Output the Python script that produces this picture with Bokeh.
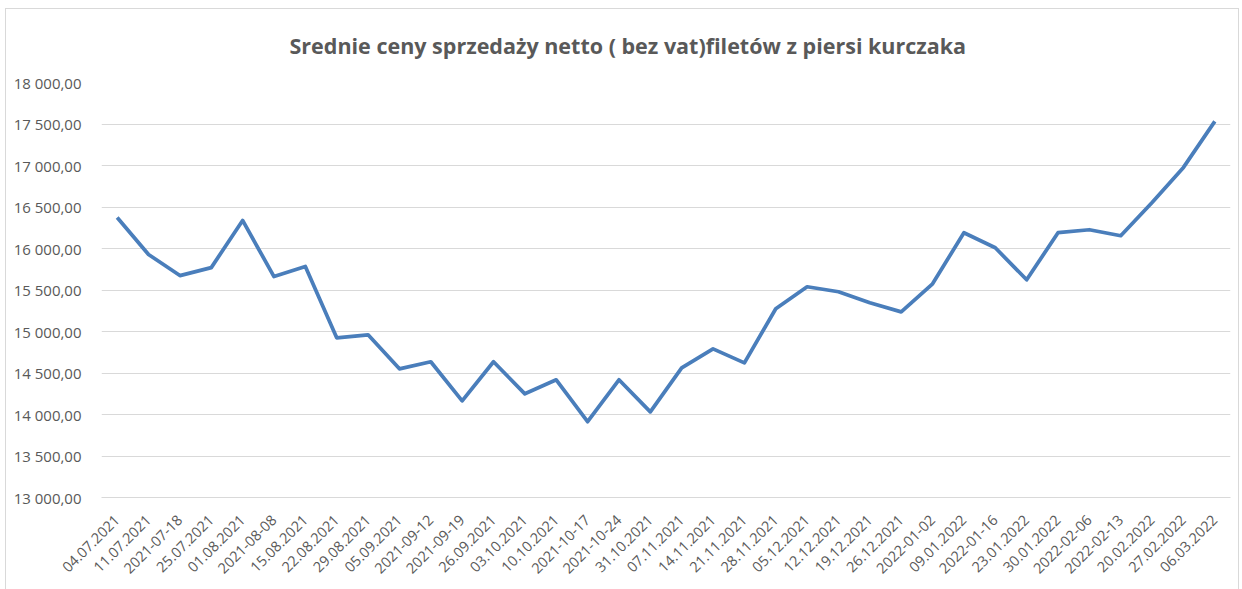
from bokeh.plotting import figure
from bokeh.models import FactorRange, Range1d, FixedTicker
from bokeh.embed import file_html
from bokeh.resources import INLINE

dates = ["04.07.2021", "11.07.2021", "2021-07-18", "25.07.2021", "01.08.2021", "2021-08-08",
         "15.08.2021", "22.08.2021", "29.08.2021", "05.09.2021", "2021-09-12", "2021-09-19",
         "26.09.2021", "03.10.2021", "10.10.2021", "2021-10-17", "2021-10-24", "31.10.2021",
         "07.11.2021", "14.11.2021", "21.11.2021", "28.11.2021", "05.12.2021", "12.12.2021",
         "19.12.2021", "26.12.2021", "2022-01-02", "09.01.2022", "2022-01-16", "23.01.2022",
         "30.01.2022", "2022-02-06", "2022-02-13", "20.02.2022", "27.02.2022", "06.03.2022"]

prices = [16374, 15927, 15674, 15770, 16338, 15662,
          15783, 14924, 14960, 14550, 14635, 14165,
          14635, 14249, 14418, 13913, 14418, 14032,
          14562, 14791, 14622, 15274, 15539, 15479,
          15346, 15237, 15575, 16190, 16009, 15623,
          16190, 16226, 16154, 16555, 16977, 17532]

y_ticks = [13000, 13500, 14000, 14500, 15000, 15500, 16000, 16500, 17000, 17500, 18000]
y_labels = ["13 000,00", "13 500,00", "14 000,00", "14 500,00", "15 000,00", "15 500,00",
            "16 000,00", "16 500,00", "17 000,00", "17 500,00", "18 000,00"]

title_text = "Srednie ceny sprzedaży netto ( bez vat)filetów z piersi kurczaka"

p = figure(frame_width=1129, frame_height=415, x_range=FactorRange(*dates), y_range=Range1d(13000, 18000),
           output_backend="svg", toolbar_location=None, title=title_text,
           min_border_left=95, min_border_right=8, min_border_top=73, min_border_bottom=92)
p.styles = {"border": "1px solid #d9d9d9", "margin-left": "5px", "margin-top": "8px"}

p.title.align = "left"
p.title.offset = 188
p.title.vertical_align = "top"
p.title.text_font = "Open Sans"
p.title.text_font_size = "21.5px"
p.title.text_font_style = "bold"
p.title.text_color = "#595959"
p.title.standoff = 41

p.line(dates, prices, line_color="#4a7ebb", line_width=3.75, line_join="round")

p.outline_line_color = None
p.xgrid.grid_line_color = None
p.ygrid.grid_line_color = "#d9d9d9"
p.ygrid.grid_line_width = 1

p.yaxis.ticker = FixedTicker(ticks=y_ticks)
p.yaxis.major_label_overrides = {t: l for t, l in zip(y_ticks, y_labels)}
p.yaxis.axis_line_color = None
p.yaxis.major_tick_line_color = None
p.yaxis.minor_tick_line_color = None
p.yaxis.major_label_text_font = "Open Sans"
p.yaxis.major_label_text_font_size = "15px"
p.yaxis.major_label_text_color = "#595959"
p.yaxis.major_label_standoff = 14

p.xaxis.axis_line_color = "#d9d9d9"
p.xaxis.major_tick_line_color = None
p.xaxis.minor_tick_line_color = None
p.xaxis.major_label_orientation = 0.785398
p.xaxis.major_label_text_font = "Open Sans"
p.xaxis.major_label_text_font_size = "14.5px"
p.xaxis.major_label_text_color = "#595959"
p.xaxis.major_label_standoff = 14

open("out.html", "w").write(file_html(p, INLINE))
